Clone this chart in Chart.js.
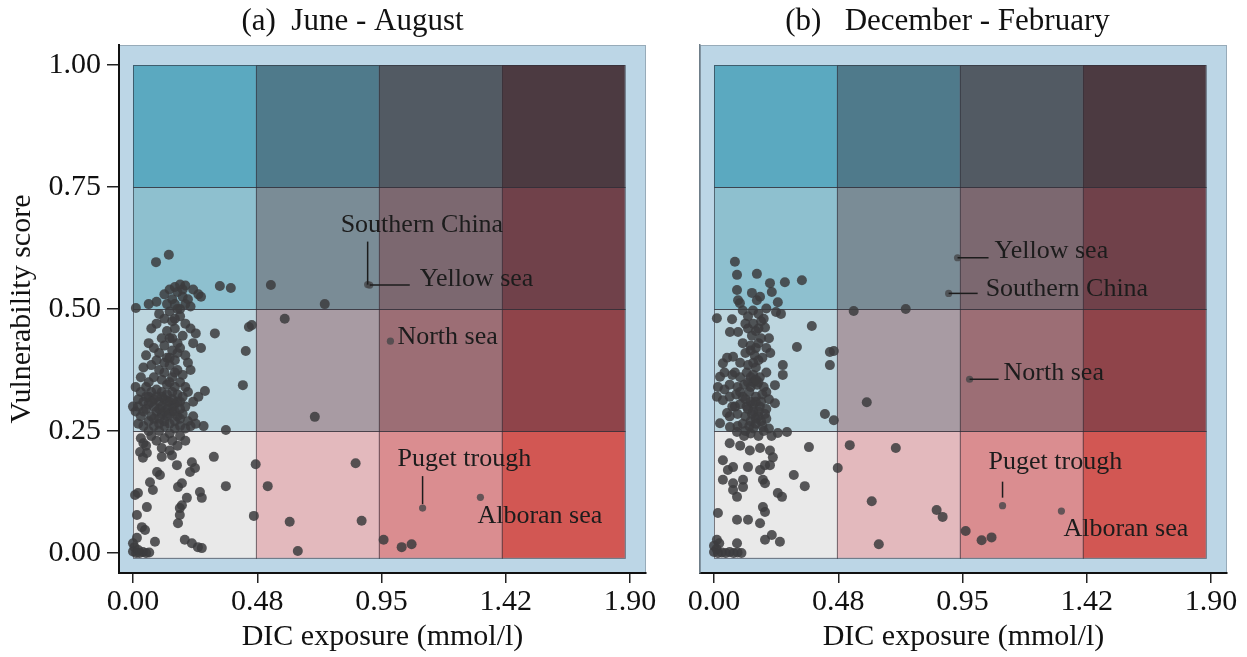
<!DOCTYPE html>
<html>
<head>
<meta charset="utf-8">
<script src="https://cdn.jsdelivr.net/npm/chart.js@4.4.0/dist/chart.umd.min.js"></script>
<style>
    body { margin: 0; background: #fff; width: 1247px; height: 657px; overflow: hidden; position: relative; }
    .panel { position: absolute; top: 0; height: 657px; }
    #panelA { left: 0; width: 660px; }
    #panelB { left: 660px; width: 587px; }
</style>
</head>
<body>
<div class="panel" id="panelA"><canvas id="chartA" width="660" height="657"></canvas></div>
<div class="panel" id="panelB"><canvas id="chartB" width="587" height="657"></canvas></div>
<script>
// axes
const exposureTicks = [0, 0.475, 0.95, 1.425, 1.9]
const exposureTickLabels = ['0.00', '0.48', '0.95', '1.42', '1.90']
const scoreTicks = [0, 0.25, 0.5, 0.75, 1]
const scoreTickLabels = ['0.00', '0.25', '0.50', '0.75', '1.00']

// bivariate class grid
const exposureBreaks = [0, 0.47, 0.94, 1.41, 1.88]
const scoreBreaks = [-0.01, 0.25, 0.5, 0.75, 1]
const cellColours = [ // bottom row first
    ['#e9e9e9', '#e3b9bd', '#da8d90', '#d25753'],
    ['#bdd6df', '#a89ba3', '#9c6e75', '#8f444a'],
    ['#8ec0cf', '#7a8c96', '#7c6870', '#70414a'],
    ['#5ba9c0', '#4f7a8b', '#525a63', '#4c3a41'],
]

// named regions
const siteNames = ['Southern China', 'Yellow sea', 'North sea', 'Puget trough', 'Alboran sea']
const jjaSiteX = [0.897, 0.905, 0.984, 1.107, 1.328]
const jjaSiteY = [0.55, 0.549, 0.434, 0.092, 0.114]
const djfSiteX = [0.897, 0.931, 0.977, 1.103, 1.328]
const djfSiteY = [0.532, 0.605, 0.356, 0.097, 0.086]

// (a) June - August, [exposure, score]
const jjaPoints = [
    [0.088,0.596],[0.137,0.611],[0.332,0.547],[0.374,0.543],[0.011,0.502],[0.527,0.549],[0.733,0.51],[0.58,0.48],
    [0.443,0.463],[0.454,0.467],[0.313,0.45],[0.431,0.414],[0.42,0.344],[0.275,0.332],[0.695,0.279],[0.355,0.252],
    [0.469,0.182],[0.851,0.184],[0.515,0.137],[0.355,0.137],[0.309,0.197],[0.462,0.076],[0.599,0.064],[0.874,0.066],
    [0.63,0.004],[0.958,0.027],[1.027,0.012],[1.065,0.018],
    [0.12,0.53],[0.14,0.54],[0.16,0.545],[0.18,0.55],[0.2,0.548],[0.17,0.535],[0.15,0.52],[0.19,0.525],[0.21,0.52],
    [0.13,0.51],[0.09,0.515],[0.06,0.51],[0.22,0.505],[0.17,0.5],[0.14,0.495],[0.25,0.53],[0.26,0.525],[0.23,0.54],
    [0.1,0.49],[0.12,0.48],[0.15,0.475],[0.18,0.485],[0.2,0.47],[0.22,0.46],[0.16,0.46],[0.13,0.455],[0.09,0.47],
    [0.07,0.46],[0.11,0.44],[0.19,0.445],[0.24,0.45],[0.14,0.44],[0.17,0.43],
    [0.06,0.43],[0.08,0.42],[0.1,0.41],[0.12,0.425],[0.15,0.415],[0.18,0.42],[0.2,0.405],[0.23,0.43],[0.13,0.4],
    [0.16,0.395],[0.09,0.395],[0.05,0.405],[0.21,0.39],[0.26,0.42],
    [0.04,0.38],[0.07,0.385],[0.1,0.375],[0.12,0.37],[0.14,0.385],[0.17,0.375],[0.19,0.365],[0.22,0.375],[0.08,0.36],
    [0.11,0.355],[0.15,0.36],[0.18,0.35],[0.06,0.35],[0.13,0.345],[0.2,0.34],[0.16,0.34],[0.03,0.36],
    [0.01,0.34],[0.03,0.33],[0.05,0.34],[0.07,0.33],[0.09,0.335],[0.11,0.33],[0.13,0.325],[0.15,0.33],[0.17,0.325],
    [0.19,0.32],[0.21,0.33],[0.02,0.315],[0.04,0.31],[0.06,0.32],[0.08,0.315],[0.1,0.31],[0.12,0.315],[0.14,0.31],
    [0.16,0.305],[0.18,0.31],[0.2,0.3],[0.23,0.31],[0.25,0.32],[0.0,0.3],
    [0.01,0.29],[0.03,0.28],[0.05,0.295],[0.07,0.28],[0.09,0.29],[0.11,0.285],[0.13,0.28],[0.15,0.29],[0.17,0.28],
    [0.19,0.285],[0.21,0.27],[0.23,0.28],[0.02,0.265],[0.04,0.26],[0.06,0.27],[0.08,0.26],[0.1,0.265],[0.12,0.26],
    [0.14,0.265],[0.16,0.255],[0.18,0.26],[0.2,0.255],[0.22,0.26],[0.24,0.265],[0.27,0.26],[0.1,0.25],[0.14,0.245],
    [0.06,0.25],
    [0.11,0.3],[0.13,0.295],[0.15,0.3],[0.12,0.29],[0.14,0.285],[0.16,0.29],[0.1,0.295],[0.08,0.3],[0.06,0.305],
    [0.18,0.295],[0.17,0.31],[0.15,0.315],[0.13,0.31],[0.11,0.32],[0.09,0.32],[0.07,0.31],[0.05,0.32],[0.04,0.29],
    [0.02,0.3],[0.16,0.27],[0.18,0.275],[0.12,0.27],[0.1,0.275],[0.08,0.275],[0.14,0.35],[0.16,0.37],[0.12,0.39],
    [0.14,0.4],[0.17,0.41],[0.15,0.44],[0.16,0.48],[0.18,0.5],[0.2,0.51],[0.16,0.51],[0.19,0.54],
    [0.03,0.235],[0.07,0.24],[0.09,0.23],[0.12,0.235],[0.15,0.23],[0.18,0.24],[0.2,0.23],[0.05,0.22],[0.11,0.215],
    [0.14,0.21],[0.17,0.22],[0.04,0.225],
    [0.027,0.207],[0.053,0.205],[0.038,0.195],[0.11,0.197],[0.149,0.2],[0.168,0.18],[0.225,0.186],[0.237,0.174],
    [0.218,0.166],[0.092,0.166],[0.103,0.16],[0.065,0.145],[0.076,0.129],[0.187,0.143],[0.172,0.135],[0.008,0.119],
    [0.019,0.123],[0.256,0.125],[0.263,0.113],[0.206,0.113],[0.187,0.098],[0.179,0.092],[0.053,0.094],[0.015,0.078],
    [0.179,0.078],[0.172,0.061],[0.034,0.053],[0.046,0.047],[0.015,0.031],[0.084,0.023],[0.198,0.027],[0.225,0.02],
    [0.248,0.012],[0.263,0.01],
    [0.0,0.003],[0.012,0.0],[0.025,0.0],[0.038,0.002],[0.05,0.0],[0.062,0.001],[0.006,0.012],[0.02,0.006],[0.0,0.02],
]

// (b) December - February, [exposure, score]
const djfPoints = [
    [0.08,0.597],[0.088,0.57],[0.164,0.572],[0.214,0.553],[0.221,0.535],[0.271,0.555],[0.336,0.559],[0.534,0.496],
    [0.733,0.5],[0.374,0.465],[0.317,0.422],[0.443,0.412],[0.458,0.414],[0.443,0.385],[0.584,0.309],[0.424,0.285],
    [0.458,0.272],[0.519,0.221],[0.695,0.215],[0.363,0.217],[0.473,0.174],[0.305,0.16],[0.347,0.137],[0.603,0.106],
    [0.851,0.088],[0.874,0.074],[0.63,0.018],[0.962,0.045],[1.023,0.026],[1.061,0.032],
    [0.088,0.539],[0.092,0.518],[0.099,0.512],[0.145,0.533],[0.164,0.518],[0.176,0.525],[0.244,0.514],[0.11,0.497],
    [0.149,0.497],[0.2,0.501],[0.237,0.494],[0.256,0.49],[0.011,0.481],[0.069,0.479],[0.13,0.485],[0.17,0.49],
    [0.061,0.453],[0.092,0.453],[0.13,0.46],[0.16,0.455],[0.195,0.462],[0.12,0.47],[0.18,0.475],[0.145,0.445],[0.21,0.44],
    [0.034,0.389],[0.073,0.402],[0.11,0.43],[0.14,0.425],[0.17,0.43],[0.2,0.42],[0.12,0.41],[0.155,0.405],[0.185,0.4],
    [0.215,0.41],[0.263,0.385],[0.1,0.39],[0.13,0.385],[0.16,0.38],[0.05,0.4],
    [0.263,0.365],[0.023,0.361],[0.015,0.34],[0.04,0.37],[0.07,0.365],[0.1,0.36],[0.125,0.37],[0.15,0.365],[0.175,0.36],
    [0.2,0.37],[0.06,0.345],[0.09,0.34],[0.115,0.345],[0.14,0.34],[0.165,0.345],[0.19,0.34],[0.233,0.344],
    [0.011,0.32],[0.034,0.313],[0.06,0.32],[0.085,0.325],[0.11,0.32],[0.135,0.33],[0.16,0.32],[0.185,0.325],[0.21,0.315],
    [0.233,0.307],[0.07,0.3],[0.1,0.305],[0.125,0.3],[0.15,0.305],[0.175,0.3],[0.2,0.295],[0.05,0.287],[0.09,0.285],
    [0.12,0.28],[0.145,0.285],[0.17,0.28],[0.195,0.285],
    [0.13,0.35],[0.15,0.35],[0.17,0.35],[0.14,0.36],[0.16,0.355],[0.14,0.31],[0.16,0.31],[0.12,0.315],[0.18,0.31],
    [0.13,0.295],[0.15,0.29],[0.17,0.29],[0.14,0.27],[0.16,0.275],[0.18,0.27],[0.2,0.275],[0.12,0.25],[0.15,0.255],
    [0.19,0.25],[0.22,0.24],[0.15,0.39],[0.17,0.395],[0.14,0.415],[0.16,0.42],[0.18,0.44],[0.15,0.47],[0.17,0.46],
    [0.19,0.48],[0.08,0.3],[0.06,0.28],[0.09,0.26],[0.08,0.37],[0.1,0.33],[0.2,0.33],[0.04,0.335],
    [0.023,0.266],[0.061,0.258],[0.088,0.248],[0.11,0.265],[0.135,0.26],[0.16,0.265],[0.185,0.26],[0.21,0.255],
    [0.279,0.248],[0.244,0.246],[0.14,0.245],[0.115,0.24],[0.17,0.24],
    [0.06,0.225],[0.1,0.22],[0.137,0.21],[0.176,0.215],[0.214,0.21],[0.225,0.196],[0.034,0.19],[0.053,0.17],[0.073,0.176],
    [0.13,0.176],[0.176,0.17],[0.195,0.18],[0.214,0.18],[0.034,0.15],[0.073,0.143],[0.111,0.15],[0.187,0.15],[0.195,0.143],
    [0.073,0.129],[0.088,0.115],[0.111,0.135],[0.244,0.123],[0.26,0.115],[0.187,0.094],[0.195,0.084],[0.015,0.082],
    [0.088,0.068],[0.13,0.068],[0.176,0.061],[0.195,0.027],[0.221,0.037],[0.252,0.023],[0.088,0.02],[0.011,0.027],[0.02,0.02],
    [0.0,0.002],[0.015,0.0],[0.03,0.001],[0.045,0.0],[0.06,0.002],[0.075,0.0],[0.09,0.001],[0.105,0.0],[0.0,0.015],[0.01,0.008],
]

// label placement, pixel offsets from the point
const jjaLabelLayout = [
    { dx: -27, dy: -59, leader: [[0, 0], [0, -43]] },
    { dx: 50, dy: -6, leader: [[0, 0], [40, 0]] },
    { dx: 7, dy: -4 },
    { dx: -25, dy: -49, leader: [[0, -4], [0, -32]] },
    { dx: -3, dy: 19 },
]
const djfLabelLayout = [
    { dx: 37, dy: -4, leader: [[0, 0], [29, 0]] },
    { dx: 37, dy: -7, leader: [[0, 0], [31, 0]] },
    { dx: 34, dy: -6, leader: [[0, 0], [29, 0]] },
    { dx: -14, dy: -43, leader: [[0, -8], [0, -24]] },
    { dx: 2, dy: 18 },
]

Chart.defaults.font.family = "'Liberation Serif', 'Times New Roman', serif"
Chart.defaults.color = '#111'

const serif = size => ({ family: "'Liberation Serif', 'Times New Roman', serif", size: size })

const gridPlugin = {
    id: 'classGrid',
    beforeDraw(chart) {
        const { ctx, chartArea: a, scales: { x, y } } = chart
        ctx.save()
        ctx.fillStyle = '#bcd6e6'
        ctx.fillRect(a.left, a.top, a.right - a.left, a.bottom - a.top)
        ctx.strokeStyle = '#97abb9'
        ctx.lineWidth = 1
        ctx.strokeRect(a.left + 0.5, a.top + 0.5, a.right - a.left - 1, a.bottom - a.top - 1)
        for (let r = 0; r < 4; r++) {
            for (let c = 0; c < 4; c++) {
                const x0 = x.getPixelForValue(exposureBreaks[c])
                const x1 = x.getPixelForValue(exposureBreaks[c + 1])
                const y0 = y.getPixelForValue(scoreBreaks[r + 1])
                const y1 = y.getPixelForValue(scoreBreaks[r])
                ctx.fillStyle = cellColours[r][c]
                ctx.fillRect(x0, y0, x1 - x0, y1 - y0)
                ctx.strokeStyle = 'rgba(45,45,55,0.6)'
                ctx.strokeRect(x0 + 0.5, y0 + 0.5, x1 - x0, y1 - y0)
            }
        }
        ctx.restore()
    },
    afterDraw(chart, args, opts) {
        const { ctx, chartArea: a } = chart
        ctx.save()
        ctx.font = "31px 'Liberation Serif', 'Times New Roman', serif"
        ctx.fillStyle = '#111'
        ctx.textAlign = 'center'
        ctx.textBaseline = 'middle'
        ctx.fillText(opts.text, (a.left + a.right) / 2 + opts.shift, 22)
        ctx.restore()
    }
}

const sitePlugin = {
    id: 'siteLabels',
    afterDatasetsDraw(chart, args, opts) {
        const { ctx, scales: { x, y } } = chart
        ctx.save()
        ctx.font = "26px 'Liberation Serif', 'Times New Roman', serif"
        ctx.fillStyle = '#1c1c1c'
        ctx.strokeStyle = '#1c1c1c'
        ctx.lineWidth = 1.5
        ctx.textAlign = 'left'
        ctx.textBaseline = 'middle'
        siteNames.forEach((name, i) => {
            const px = x.getPixelForValue(opts.xs[i])
            const py = y.getPixelForValue(opts.ys[i])
            const lay = opts.layout[i]
            if (lay.leader) {
                ctx.beginPath()
                lay.leader.forEach(([lx, ly], k) => {
                    if (k === 0) ctx.moveTo(px + lx, py + ly)
                    else ctx.lineTo(px + lx, py + ly)
                })
                ctx.stroke()
            }
            ctx.fillText(name, px + lay.dx, py + lay.dy)
        })
        ctx.restore()
    }
}

const makeChart = (canvas, points, siteX, siteY, layout, title, titleShift, isFirst) => {
    const pad = isFirst ? { left: 0, right: 14, top: 45, bottom: 0 } : { left: 40, right: 20, top: 45, bottom: 0 }
    return new Chart(canvas, {
        type: 'scatter',
        data: {
            datasets: [{
                data: points.map(p => ({ x: p[0], y: p[1] })),
                pointRadius: 5,
                pointBackgroundColor: 'rgba(60,60,62,0.85)',
                pointBorderWidth: 0,
                pointHoverRadius: 5
            }, {
                data: siteX.map((v, i) => ({ x: v, y: siteY[i] })),
                pointRadius: 3.6,
                pointBackgroundColor: 'rgba(70,70,72,0.8)',
                pointBorderWidth: 0
            }]
        },
        options: {
            responsive: false,
            animation: false,
            events: [],
            layout: { padding: pad },
            plugins: {
                legend: { display: false },
                tooltip: { enabled: false },
                classGrid: { text: title, shift: titleShift },
                siteLabels: { xs: siteX, ys: siteY, layout: layout }
            },
            scales: {
                x: {
                    type: 'linear',
                    min: -0.0535,
                    max: 1.961,
                    afterBuildTicks: s => { s.ticks = exposureTicks.map(v => ({ value: v })) },
                    afterFit: s => { s.height = 84 },
                    ticks: {
                        font: serif(30),
                        color: '#111',
                        padding: 1,
                        maxRotation: 0,
                        autoSkip: false,
                        callback: (v, i) => exposureTickLabels[i]
                    },
                    grid: { drawOnChartArea: false, drawTicks: true, tickLength: 10, color: '#222', lineWidth: 1.5 },
                    border: { display: true, color: '#111', width: 2 },
                    title: { display: true, text: 'DIC exposure (mmol/l)', font: serif(30), color: '#111', padding: { top: 0, bottom: 2 } }
                },
                y: {
                    type: 'linear',
                    min: -0.041,
                    max: 1.041,
                    afterBuildTicks: s => { s.ticks = scoreTicks.map(v => ({ value: v })) },
                    afterFit: s => { s.width = isFirst ? 119 : 0 },
                    ticks: {
                        display: isFirst,
                        font: serif(30),
                        color: '#111',
                        padding: 6,
                        callback: (v, i) => scoreTickLabels[i]
                    },
                    grid: { drawOnChartArea: false, drawTicks: isFirst, tickLength: 12, color: '#222', lineWidth: 1.5 },
                    border: { display: true, color: isFirst ? '#111' : '#6f7e89', width: isFirst ? 2 : 1.5 },
                    title: { display: isFirst, text: 'Vulnerability score', font: serif(30), color: '#111', padding: { top: 4, bottom: 0 } }
                }
            }
        },
        plugins: [gridPlugin, sitePlugin]
    })
}

makeChart(document.getElementById('chartA'), jjaPoints, jjaSiteX, jjaSiteY, jjaLabelLayout, '(a)  June - August', -30, true)
makeChart(document.getElementById('chartB'), djfPoints, djfSiteX, djfSiteY, djfLabelLayout, '(b)   December - February', -16, false)
</script>
</body>
</html>
